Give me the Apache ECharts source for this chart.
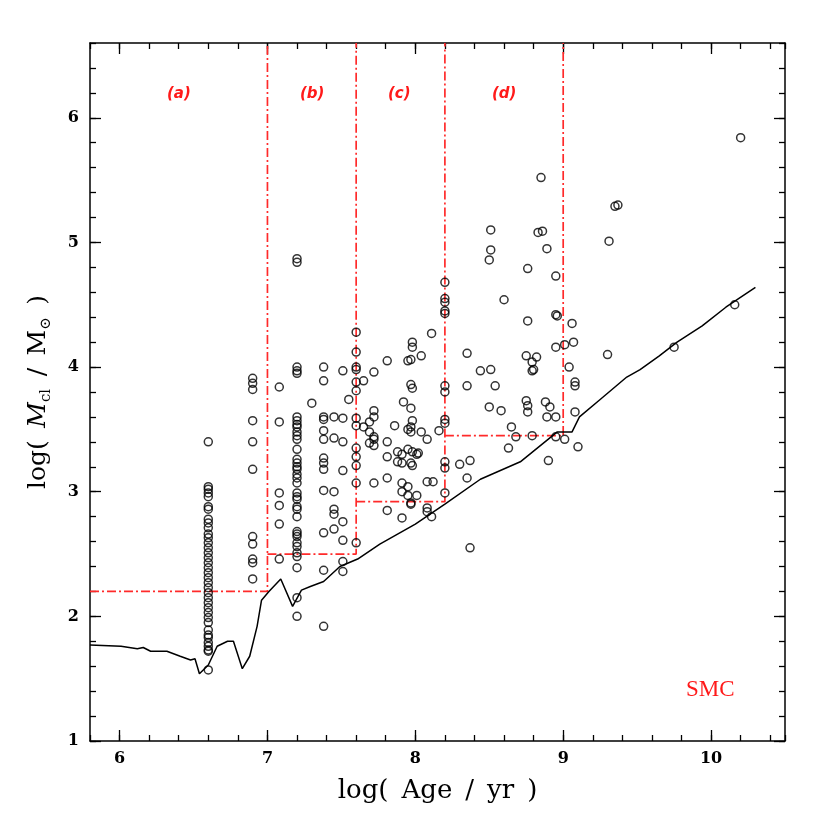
<!DOCTYPE html>
<html>
<head>
<meta charset="utf-8">
<script src="https://cdn.jsdelivr.net/npm/echarts@6/dist/echarts.min.js"></script>
<style>
  html, body { margin: 0; background: #fff; }
  #chart { width: 830px; height: 830px; }
</style>
</head>
<body>
<div id="chart"></div>
<script>
// cluster ages and masses (log Age, log M)
const clusterAge = [
  6.6, 6.6, 6.6, 6.6, 6.6, 6.6, 6.6, 6.6, 6.6, 6.6, 6.6, 6.6, 6.6, 6.6, 6.6, 6.6, 6.6, 6.6, 6.6,
  6.6, 6.6, 6.6, 6.6, 6.6, 6.6, 6.6, 6.6, 6.6, 6.6, 6.6, 6.6, 6.6, 6.6, 6.6, 6.6, 6.6, 6.6,
  6.9, 6.9, 6.9, 6.9, 6.9, 6.9, 6.9, 6.9, 6.9, 6.9, 6.9,
  7.08, 7.08, 7.08, 7.08, 7.08, 7.08,
  7.2, 7.2, 7.2, 7.2, 7.2, 7.2, 7.2, 7.2, 7.2, 7.2, 7.2, 7.2, 7.2, 7.2, 7.2, 7.2, 7.2, 7.2,
  7.2, 7.2, 7.2, 7.2, 7.2, 7.2, 7.2, 7.2, 7.2, 7.2, 7.2, 7.2, 7.2, 7.2, 7.2, 7.2, 7.2, 7.2,
  7.30, 7.38, 7.38, 7.38, 7.38, 7.38, 7.38, 7.38, 7.38, 7.38, 7.38, 7.38, 7.38, 7.38,
  7.45, 7.45, 7.45, 7.45, 7.45, 7.45,
  7.51, 7.51, 7.51, 7.51, 7.51, 7.51, 7.51, 7.51, 7.55,
  7.6, 7.6, 7.6, 7.6, 7.6, 7.6, 7.6, 7.6, 7.6, 7.6, 7.6, 7.6, 7.6,
  7.65, 7.81, 7.95, 7.97, 7.98, 7.98, 8.04, 8.11, 7.72, 7.97, 7.98,
  7.72, 7.72, 7.69, 7.65, 7.69, 7.72, 7.72, 7.69, 7.72,
  7.86, 7.92, 7.97, 7.98, 7.97, 7.95, 7.97, 8.04, 8.08, 7.81,
  7.81, 7.88, 7.91, 7.88, 7.91, 7.95, 7.98, 8.01, 8.02, 7.97, 7.98,
  7.81, 7.72, 7.91, 7.95, 7.91, 7.95, 8.01, 7.97, 7.97, 8.08, 8.12, 8.16,
  7.81, 7.91, 8.08, 8.08, 8.11,
  8.2, 8.2, 8.2, 8.2, 8.2, 8.2, 8.2, 8.2, 8.2, 8.2, 8.2, 8.2,
  8.30, 8.37, 8.35, 8.37,
  8.51, 8.51, 8.50, 8.83, 8.86, 8.89, 8.76, 8.95, 8.60, 8.76, 8.95, 8.96, 9.06,
  8.35, 8.95, 9.01, 9.07, 8.75, 8.82, 8.79, 8.80, 8.79, 8.44, 8.51, 9.04,
  8.35, 8.54, 9.08, 9.08, 8.75, 8.76, 8.76, 8.88, 8.91, 8.50, 8.58, 8.89, 8.95, 9.08,
  8.65, 8.68, 8.79, 8.95, 9.01, 8.63, 9.10, 8.90,
  8.85, 9.35, 9.37, 9.31, 9.30, 9.75, 10.16, 10.20
];
const clusterMass = [
  3.40, 3.04, 3.02, 2.99, 2.96, 2.88, 2.86, 2.78, 2.75, 2.71, 2.66, 2.63, 2.59, 2.55, 2.51, 2.47, 2.43, 2.39, 2.35,
  2.31, 2.27, 2.23, 2.19, 2.15, 2.11, 2.07, 2.03, 1.99, 1.95, 1.89, 1.85, 1.83, 1.79, 1.76, 1.73, 1.72, 1.57,
  3.91, 3.87, 3.82, 3.57, 3.40, 3.18, 2.64, 2.58, 2.46, 2.43, 2.30,
  3.84, 3.56, 2.99, 2.89, 2.74, 2.46,
  4.87, 4.84, 4.00, 3.97, 3.95, 3.60, 3.57, 3.54, 3.52, 3.48, 3.45, 3.42, 3.34, 3.26, 3.23, 3.20, 3.18, 3.14,
  3.11, 3.07, 2.99, 2.96, 2.94, 2.88, 2.86, 2.80, 2.68, 2.66, 2.64, 2.59, 2.56, 2.51, 2.48, 2.39, 2.15, 2.00,
  3.71, 4.00, 3.89, 3.60, 3.58, 3.49, 3.42, 3.27, 3.23, 3.18, 3.01, 2.67, 2.37, 1.92,
  3.60, 3.43, 3.00, 2.86, 2.82, 2.70,
  3.97, 3.59, 3.40, 3.17, 2.76, 2.61, 2.44, 2.36, 3.74,
  4.28, 4.12, 4.00, 3.98, 3.88, 3.81, 3.59, 3.53, 3.35, 3.28, 3.21, 3.07, 2.59,
  3.89, 4.05, 4.05, 4.06, 4.20, 4.16, 4.09, 4.27, 3.96, 3.86, 3.83,
  3.65, 3.60, 3.56, 3.52, 3.48, 3.44, 3.42, 3.39, 3.37,
  3.53, 3.72, 3.67, 3.57, 3.52, 3.50, 3.48, 3.48, 3.42, 3.40,
  3.28, 3.32, 3.30, 3.24, 3.23, 3.34, 3.32, 3.30, 3.31, 3.23, 3.21,
  3.11, 3.07, 3.07, 3.04, 3.00, 2.97, 2.97, 2.91, 2.90, 3.08, 3.08, 3.49,
  2.85, 2.79, 2.87, 2.84, 2.80,
  4.68, 4.55, 4.52, 4.45, 4.43, 3.85, 3.80, 3.58, 3.55, 3.24, 3.19, 2.99,
  3.22, 3.25, 3.11, 2.55,
  5.10, 4.94, 4.86, 5.08, 5.09, 4.95, 4.79, 4.73, 4.54, 4.37, 4.42, 4.41, 4.35,
  4.11, 4.16, 4.18, 4.20, 4.09, 4.08, 4.04, 3.98, 3.97, 3.97, 3.98, 4.00,
  3.85, 3.85, 3.88, 3.85, 3.73, 3.69, 3.64, 3.72, 3.68, 3.68, 3.65, 3.60, 3.60, 3.64,
  3.52, 3.44, 3.45, 3.44, 3.42, 3.35, 3.36, 3.25,
  5.52, 5.29, 5.30, 5.01, 4.10, 4.16, 4.50, 5.84
];

// detection limit curve
const limitAge = [5.80, 6.01, 6.12, 6.16, 6.21, 6.32, 6.41, 6.48, 6.51, 6.54, 6.60, 6.66, 6.73, 6.77,
  6.83, 6.88, 6.93, 6.96, 7.01, 7.09, 7.17, 7.23, 7.29, 7.38, 7.49, 7.61, 7.76, 8.00, 8.20,
  8.44, 8.71, 8.96, 9.06, 9.11, 9.25, 9.43, 9.52, 9.65, 9.77, 9.94, 10.10, 10.30];
const limitMass = [1.77, 1.76, 1.74, 1.75, 1.72, 1.72, 1.68, 1.65, 1.66, 1.54, 1.61, 1.76, 1.80, 1.80,
  1.58, 1.68, 1.92, 2.13, 2.20, 2.30, 2.08, 2.21, 2.24, 2.28, 2.40, 2.46, 2.58, 2.74, 2.90,
  3.10, 3.24, 3.48, 3.48, 3.60, 3.74, 3.92, 3.98, 4.09, 4.20, 4.33, 4.48, 4.64];

// age bins (a)-(d) and their mass limits
const binStart = [5.8, 7.0, 7.6, 8.2];
const binEnd = [7.0, 7.6, 8.2, 9.0];
const binMassLimit = [2.2, 2.5, 2.92, 3.45];
const binLabels = ['(a)', '(b)', '(c)', '(d)'];

const xMajorTicks = [6, 7, 8, 9, 10];
const yMajorTicks = [1, 2, 3, 4, 5, 6];

const X_MIN = 5.8, X_MAX = 10.5, Y_MIN = 1, Y_MAX = 6.6;

const chart = echarts.init(document.getElementById('chart'));

const tickFont = { fontFamily: 'DejaVu Serif', fontWeight: 'bold', fontSize: 16, color: '#000' };
const black = { color: '#000', width: 1.3 };

function majorAxis(pos, ticks, extra) {
  return Object.assign({
    type: 'value', position: pos,
    axisLine: { show: true, onZero: false, lineStyle: { color: '#000', width: 1.5 } },
    axisTick: { show: true, inside: true, length: 11, customValues: ticks, lineStyle: black },
    axisLabel: { show: false },
    splitLine: { show: false }
  }, extra);
}
function minorAxis(pos, extra) {
  return Object.assign({
    type: 'value', position: pos, interval: 0.2,
    axisLine: { show: false },
    axisTick: { show: true, inside: true, length: 6, lineStyle: black },
    axisLabel: { show: false },
    splitLine: { show: false }
  }, extra);
}

const xRange = { min: X_MIN, max: X_MAX };
const yRange = { min: Y_MIN, max: Y_MAX };

const binSeries = binStart.map((s, i) => ({
  type: 'line',
  data: [[s, binMassLimit[i]], [binEnd[i], binMassLimit[i]], [binEnd[i], Y_MAX]],
  showSymbol: false, symbol: 'none', silent: true,
  lineStyle: { color: '#ff2a2a', width: 1.7, type: [9, 3, 2, 3] },
  z: 1
}));

const option = {
  animation: false,
  backgroundColor: '#fff',
  grid: { left: 90, right: 45, top: 43, bottom: 89 },
  xAxis: [
    majorAxis('bottom', xMajorTicks, Object.assign({
      axisLabel: Object.assign({ show: true, customValues: xMajorTicks, margin: 10 }, tickFont),
      name: 'log(\u2002Age\u2002/\u2002yr\u2002)',
      nameLocation: 'middle', nameGap: 37,
      nameTextStyle: { fontFamily: 'DejaVu Serif', fontSize: 26, color: '#000' }
    }, xRange)),
    minorAxis('bottom', xRange),
    majorAxis('top', xMajorTicks, xRange),
    minorAxis('top', xRange)
  ],
  yAxis: [
    majorAxis('left', yMajorTicks, Object.assign({
      axisLabel: Object.assign({ show: true, customValues: yMajorTicks, margin: 11 }, tickFont),
      name: '{t|log(\u2002}{i|M}{s|cl}{t|\u2002/\u2002M}{s|\u2299}{t|\u2002)}',
      nameLocation: 'middle', nameGap: 36,
      nameTextStyle: {
        fontFamily: 'DejaVu Serif', fontSize: 25, color: '#000',
        rich: {
          t: { fontFamily: 'DejaVu Serif', fontSize: 25, lineHeight: 32, verticalAlign: 'middle' },
          i: { fontFamily: 'DejaVu Serif', fontStyle: 'italic', fontSize: 25, lineHeight: 32, verticalAlign: 'middle' },
          s: { fontFamily: 'DejaVu Serif', fontSize: 15, lineHeight: 13, verticalAlign: 'bottom' }
        }
      }
    }, yRange)),
    minorAxis('left', yRange),
    majorAxis('right', yMajorTicks, yRange),
    minorAxis('right', yRange)
  ],
  graphic: [
    ...binLabels.map((t, i) => ({
      type: 'text',
      left: [167, 300, 388, 492][i], top: 87,
      style: { text: t, fill: '#ff1a1a', font: 'italic bold 15px "DejaVu Sans"' }
    })),
    {
      type: 'text', left: 686, top: 678,
      style: { text: 'SMC', fill: '#ff1a1a', font: '23px "Liberation Serif"' }
    }
  ],
  series: [
    ...binSeries,
    {
      type: 'line',
      data: limitAge.map((a, i) => [a, limitMass[i]]),
      showSymbol: false, symbol: 'none', silent: true,
      lineStyle: { color: '#000', width: 1.5 },
      z: 2
    },
    {
      type: 'scatter',
      data: clusterAge.map((a, i) => [a, clusterMass[i]]),
      symbol: 'circle', symbolSize: 8,
      itemStyle: { color: 'rgba(0,0,0,0)', borderColor: '#000', borderWidth: 1.5 },
      z: 3
    }
  ]
};

chart.setOption(option);
</script>
</body>
</html>
